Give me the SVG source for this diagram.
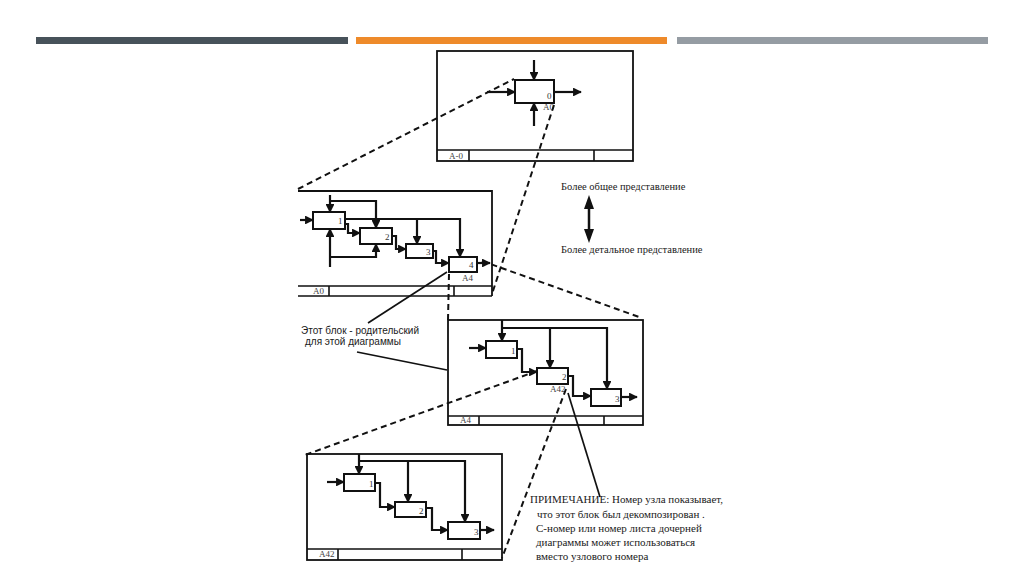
<svg xmlns="http://www.w3.org/2000/svg" width="1024" height="574" viewBox="0 0 1024 574">
<style>
.frame{fill:none;stroke:#111;stroke-width:1.8}
.box{fill:#fff;stroke:#111;stroke-width:2}
.ln{fill:none;stroke:#111;stroke-width:1.6}
.arr{fill:none;stroke:#111;stroke-width:2.2;marker-end:url(#ah)}
.dash{fill:none;stroke:#111;stroke-width:2;stroke-dasharray:6,4}
.sol{fill:none;stroke:#111;stroke-width:1.7}
.num{font-family:"Liberation Serif",serif;font-size:9px;fill:#333}
.lab{font-family:"Liberation Serif",serif;font-size:9px;fill:#444}
.txt{font-family:"Liberation Serif",serif;font-size:10.5px;fill:#1a1a1a}
.note{font-family:"Liberation Serif",serif;font-size:11px;fill:#1a1a1a}
.sans{font-family:"Liberation Sans",Arial,sans-serif;font-size:10px;fill:#1a1a1a}
</style>
<defs>
<marker id="ah" viewBox="0 0 10 10" refX="9" refY="5" markerWidth="4.5" markerHeight="4" orient="auto" markerUnits="strokeWidth">
<path d="M0,0 L10,5 L0,10 z" fill="#111"/>
</marker>
</defs>
<rect width="1024" height="574" fill="#fff"/>
<g id="header">
<rect x="36" y="37" width="312" height="7" fill="#47525a"/>
<rect x="356" y="37" width="311" height="7" fill="#ee8a2a"/>
<rect x="677" y="37" width="311" height="7" fill="#959ca3"/>
</g>

<g id="diagram-A-0">
<rect class="frame" x="437" y="51" width="196" height="110"/>
<path class="ln" d="M437 150 H633 M469 150 V161 M594 150 V161"/>
<text class="lab" x="449" y="159">A-0</text>
<rect class="box" x="515" y="80" width="39" height="23"/>
<text class="num" x="547" y="99">0</text>
<text class="lab" x="543" y="110">A0</text>
</g>

<g id="diagram-A0">
<path class="frame" d="M298 191 H492 V296"/>
<path class="ln" d="M298 286 H492 M298 296 H492 M329 286 V296 M454 286 V296"/>
<text class="lab" x="313" y="294">A0</text>
<rect class="box" x="313" y="212" width="32" height="17"/>
<text class="num" x="338" y="224">1</text>
<rect class="box" x="360" y="228" width="32" height="16"/>
<text class="num" x="385" y="240">2</text>
<rect class="box" x="406" y="244" width="27" height="14"/>
<text class="num" x="426" y="255">3</text>
<rect class="box" x="449" y="257" width="28" height="15"/>
<text class="num" x="469" y="268">4</text>
<text class="lab" x="462" y="281">A4</text>
</g>

<g id="diagram-A4">
<rect class="frame" x="448" y="320" width="195" height="105"/>
<path class="ln" d="M448 416 H643 M479 416 V425 M604 416 V425"/>
<text class="lab" x="460" y="423">A4</text>
<rect class="box" x="486" y="341" width="31" height="17"/>
<text class="num" x="511" y="354">1</text>
<rect class="box" x="537" y="368" width="31" height="16"/>
<text class="num" x="562" y="380">2</text>
<text class="lab" x="550" y="392">A42</text>
<rect class="box" x="591" y="389" width="30" height="17"/>
<text class="num" x="615" y="402">3</text>
</g>

<g id="diagram-A42">
<rect class="frame" x="307" y="454" width="195" height="106"/>
<path class="ln" d="M307 549 H502 M338 549 V560 M462 549 V560"/>
<text class="lab" x="319" y="557">A42</text>
<rect class="box" x="344" y="474" width="31" height="17"/>
<text class="num" x="369" y="487">1</text>
<rect class="box" x="395" y="502" width="31" height="15"/>
<text class="num" x="419" y="514">2</text>
<rect class="box" x="448" y="522" width="32" height="17"/>
<text class="num" x="474" y="535">3</text>
</g>

<g id="connectors">
<path class="arr" d="M534 60 V80"/>
<path class="arr" d="M534 126 V103"/>
<path class="arr" d="M487 92 H515"/>
<path class="arr" d="M554 92 H581"/>
<path class="arr" d="M300 220 H313"/>
<path class="arr" d="M330 195 V212"/>
<path class="arr" d="M330 201 H376 V228"/>
<path class="arr" d="M345 219 H460 V257"/>
<path class="arr" d="M417 219 V244"/>
<path class="arr" d="M345 224 H348 V233 H360"/>
<path class="arr" d="M392 236 H396 V249 H406"/>
<path class="arr" d="M433 251 H436 V263 H449"/>
<path class="arr" d="M477 263 H490"/>
<path class="arr" d="M330 267 V229"/>
<path class="arr" d="M330 257 H376 V244"/>
<path class="arr" d="M502 320 V341"/>
<path class="arr" d="M502 328 H607 V389"/>
<path class="arr" d="M550 328 V368"/>
<path class="arr" d="M469 348 H486"/>
<path class="arr" d="M517 349 H522 V372 H537"/>
<path class="arr" d="M568 376 H573 V396 H591"/>
<path class="arr" d="M621 397 H637"/>
<path class="arr" d="M359 454 V474"/>
<path class="arr" d="M359 461 H465 V522"/>
<path class="arr" d="M408 461 V502"/>
<path class="arr" d="M327 482 H344"/>
<path class="arr" d="M375 483 H380 V507 H395"/>
<path class="arr" d="M426 508 H432 V530 H448"/>
<path class="arr" d="M480 530 H494"/>
<path class="dash" d="M298 189 L514 79"/>
<path class="dash" d="M554 105 L492 294"/>
<path class="dash" d="M482 261 L642 318"/>
<path class="dash" d="M449 274 L448 320"/>
<path class="dash" d="M537 371 L305 455"/>
<path class="dash" d="M566 389 L502 558"/>
<path class="sol" d="M447 272 L368 323"/>
<path class="sol" d="M357 352 L447 370"/>
<path class="sol" d="M568 393 L600 497"/>
<path d="M589 206 V232" stroke="#111" stroke-width="2.5" fill="none"/>
<path d="M589 195 L594 209 L584 209 z" fill="#111"/>
<path d="M589 243 L594 229 L584 229 z" fill="#111"/>
</g>

<g id="labels">
<text class="txt" x="561" y="190">Более общее представление</text>
<text class="txt" x="561" y="253">Более детальное представление</text>
<text class="sans" x="301" y="334">Этот блок - родительский</text>
<text class="sans" x="305" y="345">для этой диаграммы</text>
<text class="note" x="530" y="503">ПРИМЕЧАНИЕ: Номер узла показывает,</text>
<text class="note" x="537" y="518">что этот блок был декомпозирован .</text>
<text class="note" x="536" y="532">С-номер или номер листа дочерней</text>
<text class="note" x="536" y="546">диаграммы может использоваться</text>
<text class="note" x="536" y="560">вместо узлового номера</text>
</g>
</svg>
